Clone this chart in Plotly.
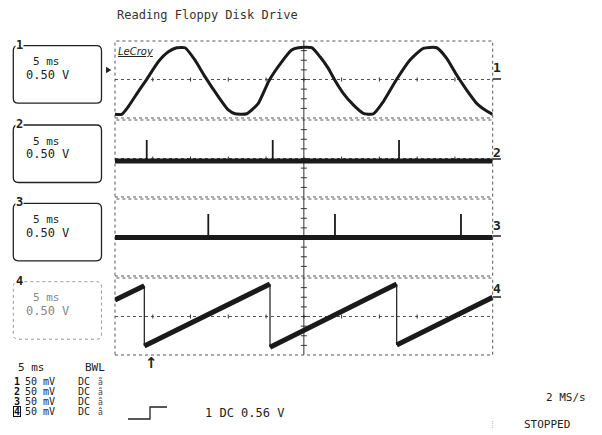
import plotly.graph_objects as go

# ---------------- data (time in ms, amplitude in V, 0.5 V/div) ----------------
ch1_t = [0.0, 0.89, 1.76, 3.08, 4.20, 5.73, 7.06, 8.17, 9.27, 10.59, 11.91, 13.68,
         15.00, 15.89, 17.43, 18.97, 20.40, 22.07, 23.39, 24.27, 26.04, 27.14, 28.24,
         29.03, 30.22, 31.55, 32.87, 34.19, 35.52, 37.29, 39.05, 40.81, 42.59, 43.91,
         45.23, 46.56, 47.88, 49.21, 50.0]
ch1_v = [-1.81, -1.81, -1.41, -0.63, 0.01, 0.92, 1.44, 1.65, 1.65, 1.01, 0.15, -0.89,
         -1.58, -1.78, -1.78, -1.24, -0.05, 0.92, 1.53, 1.65, 1.65, 1.18, 0.58,
         0.01, -0.72, -1.32, -1.76, -1.79, -1.15, 0.01, 1.01, 1.62, 1.65, 1.10,
         0.23, -0.55, -1.24, -1.64, -1.81]

ch2_level = -0.13
ch2_spike_t = [4.20, 20.88, 37.60]
ch2_spike_top = 0.96

ch3_level = 0.0
ch3_spike_t = [12.35, 29.12, 45.80]
ch3_spike_top = 1.22

ch4_ramp_t0 = [0.0, 3.88, 20.52, 37.29]
ch4_ramp_v0 = [0.86, -1.53, -1.60, -1.48]
ch4_ramp_t1 = [3.88, 20.52, 37.29, 50.0]
ch4_ramp_v1 = [1.60, 1.69, 1.69, 1.00]

channel_labels = ["1", "2", "3", "4"]
timebase = "5 ms"
volts_div = "0.50 V"
row_numbers = ["1", "2", "3", "4"]
row_volts = ["50 mV", "50 mV", "50 mV", "50 mV"]
row_coupling = ["DC", "DC", "DC", "DC"]
title_text = "Reading Floppy Disk Drive"
trigger_text = "1 DC 0.56 V"
rate_text = "2 MS/s"
status_text = "STOPPED"

# ---------------- layout geometry (pixels) ----------------
W, H = 602, 435
def fx(p): return p / W
def fy(p): return 1 - p / H

PX0, PX1 = 115, 492.7
TOPS = [41, 120, 199, 278]
PH = 77
INK = "#1a1a1a"
GRID = "#555555"
MONO = "DejaVu Sans Mono"

fig = go.Figure()

# ch1
fig.add_trace(go.Scatter(x=ch1_t, y=ch1_v, mode="lines", yaxis="y",
                         line=dict(color=INK, width=3, shape="spline", smoothing=0.5),
                         hoverinfo="skip", showlegend=False))

def spikes(ts, base, top):
    xs, ys = [], []
    for t in ts:
        xs += [t, t, None]
        ys += [base, top, None]
    return xs, ys

for ax, lvl, st, top in [("y2", ch2_level, ch2_spike_t, ch2_spike_top),
                         ("y3", ch3_level, ch3_spike_t, ch3_spike_top)]:
    fig.add_trace(go.Scatter(x=[0, 50], y=[lvl, lvl], mode="lines", yaxis=ax,
                             line=dict(color=INK, width=5), hoverinfo="skip", showlegend=False))
    sx, sy = spikes(st, lvl, top)
    fig.add_trace(go.Scatter(x=sx, y=sy, mode="lines", yaxis=ax,
                             line=dict(color=INK, width=1.8), hoverinfo="skip", showlegend=False))

# ch4 sawtooth: thick ramps, thin drops
rx, ry = [], []
for a, b, c, d in zip(ch4_ramp_t0, ch4_ramp_v0, ch4_ramp_t1, ch4_ramp_v1):
    rx += [a, c, None]
    ry += [b, d, None]
dx, dy = [], []
for i in range(len(ch4_ramp_t1) - 1):
    dx += [ch4_ramp_t1[i], ch4_ramp_t0[i + 1], None]
    dy += [ch4_ramp_v1[i], ch4_ramp_v0[i + 1], None]
fig.add_trace(go.Scatter(x=dx, y=dy, mode="lines", yaxis="y4",
                         line=dict(color=INK, width=1.2), hoverinfo="skip", showlegend=False))
fig.add_trace(go.Scatter(x=rx, y=ry, mode="lines", yaxis="y4",
                         line=dict(color=INK, width=5), hoverinfo="skip", showlegend=False))

shapes = []
annotations = []

# panel grids
for i, top in enumerate(TOPS):
    yref = ("y" if i == 0 else f"y{i+1}") + " domain"
    shapes.append(dict(type="rect", xref="x domain", yref=yref, x0=0, x1=1, y0=0, y1=1,
                       line=dict(color=GRID, width=1, dash="dot"), layer="below"))
    shapes.append(dict(type="line", xref="x domain", yref=yref, x0=0, x1=1, y0=0.5, y1=0.5,
                       line=dict(color=GRID, width=1, dash="dot"), layer="below"))
    for k in range(1, 10):
        shapes.append(dict(type="line", xref="x domain", yref=yref, x0=k / 10, x1=k / 10,
                           y0=0.5 - 2 / PH, y1=0.5 + 2 / PH,
                           line=dict(color="#333", width=1), layer="below"))
    for j in range(1, 8):
        shapes.append(dict(type="line", xref="x domain", yref=yref, x0=0.5 - 3 / 378, x1=0.5 + 3 / 378,
                           y0=j / 8, y1=j / 8, line=dict(color="#333", width=1), layer="below"))
# vertical centre line
shapes.append(dict(type="line", xref="x domain", yref="paper", x0=0.5, x1=0.5,
                   y0=fy(TOPS[-1] + PH), y1=fy(TOPS[0]), line=dict(color="#333", width=1), layer="below"))

# left boxes
def rrect(x0, y0, x1, y1, r):
    P = lambda x, y: f"{fx(x):.5f},{fy(y):.5f}"
    return (f"M {P(x0 + r, y0)} L {P(x1 - r, y0)} Q {P(x1, y0)} {P(x1, y0 + r)} "
            f"L {P(x1, y1 - r)} Q {P(x1, y1)} {P(x1 - r, y1)} L {P(x0 + r, y1)} "
            f"Q {P(x0, y1)} {P(x0, y1 - r)} L {P(x0, y0 + r)} Q {P(x0, y0)} {P(x0 + r, y0)} Z")

BOX_TOPS = [45.7, 125, 203.3, 281.7]
for i, bt in enumerate(BOX_TOPS):
    faded = i == 3
    shapes.append(dict(type="path", xref="paper", yref="paper", path=rrect(13.3, bt, 101.5, bt + 57.5, 5),
                       line=dict(color="#999" if faded else "#222", width=1 if faded else 1.3,
                                 dash="dot" if faded else "solid")))
    col = "#888" if faded else "#222"
    annotations.append(dict(x=fx(46), y=fy(bt + 16), text=timebase, xanchor="center", yanchor="middle",
                            font=dict(family=MONO, size=11, color=col)))
    annotations.append(dict(x=fx(47), y=fy(bt + 29.5), text=volts_div, xanchor="center", yanchor="middle",
                            font=dict(family=MONO, size=12, color=col)))
    annotations.append(dict(x=fx(19.5), y=fy(bt - 1), text=f"<b>{channel_labels[i]}</b>", xanchor="center",
                            yanchor="middle", bgcolor="white", borderpad=0,
                            font=dict(family=MONO, size=12, color="#222")))

# right channel labels and level marks
RL_Y = [68, 152, 226, 288]
RM_Y = [79, 159, 236, 297]
for i in range(4):
    annotations.append(dict(x=fx(497), y=fy(RL_Y[i]), text=f"<b>{channel_labels[i]}</b>", xanchor="center",
                            yanchor="middle", font=dict(family=MONO, size=13, color="#222")))
    shapes.append(dict(type="line", xref="paper", yref="paper", x0=fx(493), x1=fx(501),
                       y0=fy(RM_Y[i]), y1=fy(RM_Y[i]), line=dict(color="#222", width=1.5)))

# left trigger-level marker
shapes.append(dict(type="path", xref="paper", yref="paper",
                   path=f"M {fx(106.5)},{fy(67.5)} L {fx(110.5)},{fy(70)} L {fx(106.5)},{fy(72.5)} Z",
                   fillcolor="#222", line=dict(color="#222", width=1)))

# trigger position marker
annotations.append(dict(x=fx(151.5), y=fy(363), text="<b>↑</b>", xanchor="center", yanchor="middle",
                        font=dict(family="DejaVu Sans", size=15, color="#222")))

# title and logo
annotations.append(dict(x=fx(115), y=fy(15), text=title_text, xanchor="left", yanchor="middle",
                        font=dict(family=MONO, size=12, color="#333")))
annotations.append(dict(x=fx(116), y=fy(51), text="<u><i>LeCroy</i></u>", xanchor="left", yanchor="middle",
                        font=dict(family="DejaVu Sans", size=10, color="#222")))

# bottom-left block
annotations.append(dict(x=fx(16), y=fy(367), text=timebase, xanchor="left", yanchor="middle",
                        font=dict(family=MONO, size=11, color="#222")))
annotations.append(dict(x=fx(107), y=fy(367), text="BWL", xanchor="right", yanchor="middle",
                        font=dict(family=MONO, size=11, color="#222")))
ROW_Y = [381.5, 391.5, 401.5, 411.5]
for n, v, c, yy in zip(row_numbers, row_volts, row_coupling, ROW_Y):
    boxed = n == "4"
    annotations.append(dict(x=fx(17), y=fy(yy), text=f"<b>{n}</b>", xanchor="center", yanchor="middle",
                            height=9, borderpad=0,
                            font=dict(family=MONO, size=10, color="#111"),
                            bordercolor="#111" if boxed else "rgba(0,0,0,0)", borderwidth=1 if boxed else 0))
    annotations.append(dict(x=fx(24), y=fy(yy), text=v, xanchor="left", yanchor="middle",
                            height=9, borderpad=0, font=dict(family=MONO, size=10, color="#222")))
    annotations.append(dict(x=fx(77), y=fy(yy), text=c, xanchor="left", yanchor="middle",
                            height=9, borderpad=0, font=dict(family=MONO, size=10, color="#222")))
    annotations.append(dict(x=fx(100.5), y=fy(yy), text="ǟ", xanchor="center", yanchor="middle",
                            height=9, borderpad=0, font=dict(family=MONO, size=8, color="#444")))

# trigger step symbol
shapes.append(dict(type="path", xref="paper", yref="paper",
                   path=f"M {fx(128)},{fy(419)} L {fx(150)},{fy(419)} L {fx(150)},{fy(407)} L {fx(167)},{fy(407)}",
                   line=dict(color="#222", width=1.3)))
annotations.append(dict(x=fx(203), y=fy(413), text=trigger_text, xanchor="left", yanchor="middle",
                        font=dict(family=MONO, size=12, color="#222")))
annotations.append(dict(x=fx(588), y=fy(397.5), text=rate_text, xanchor="right", yanchor="middle",
                        font=dict(family=MONO, size=11, color="#222")))
annotations.append(dict(x=fx(522), y=fy(424.5), text=status_text, xanchor="left", yanchor="middle",
                        font=dict(family=MONO, size=11, color="#222")))
annotations.append(dict(x=fx(492), y=fy(424.5), text="⁞", xanchor="center", yanchor="middle",
                        font=dict(family=MONO, size=10, color="#bbb")))

for a in annotations:
    a.setdefault("xref", "paper")
    a.setdefault("yref", "paper")
    a.setdefault("showarrow", False)

layout_axes = {}
layout_axes["xaxis"] = dict(domain=[fx(PX0), fx(PX1)], range=[0, 50], anchor="y4", visible=False)
for i, top in enumerate(TOPS):
    key = "yaxis" if i == 0 else f"yaxis{i+1}"
    layout_axes[key] = dict(domain=[fy(top + PH), fy(top)], range=[-2, 2], anchor="x", visible=False)

fig.update_layout(width=W, height=H, margin=dict(l=0, r=0, t=0, b=0),
                  paper_bgcolor="white", plot_bgcolor="rgba(0,0,0,0)",
                  showlegend=False, shapes=shapes, annotations=annotations, **layout_axes)

fig.write_html("out.html", config={"displayModeBar": False, "staticPlot": True},
               post_script="document.body.style.margin='0px';document.body.style.overflow='hidden';")
